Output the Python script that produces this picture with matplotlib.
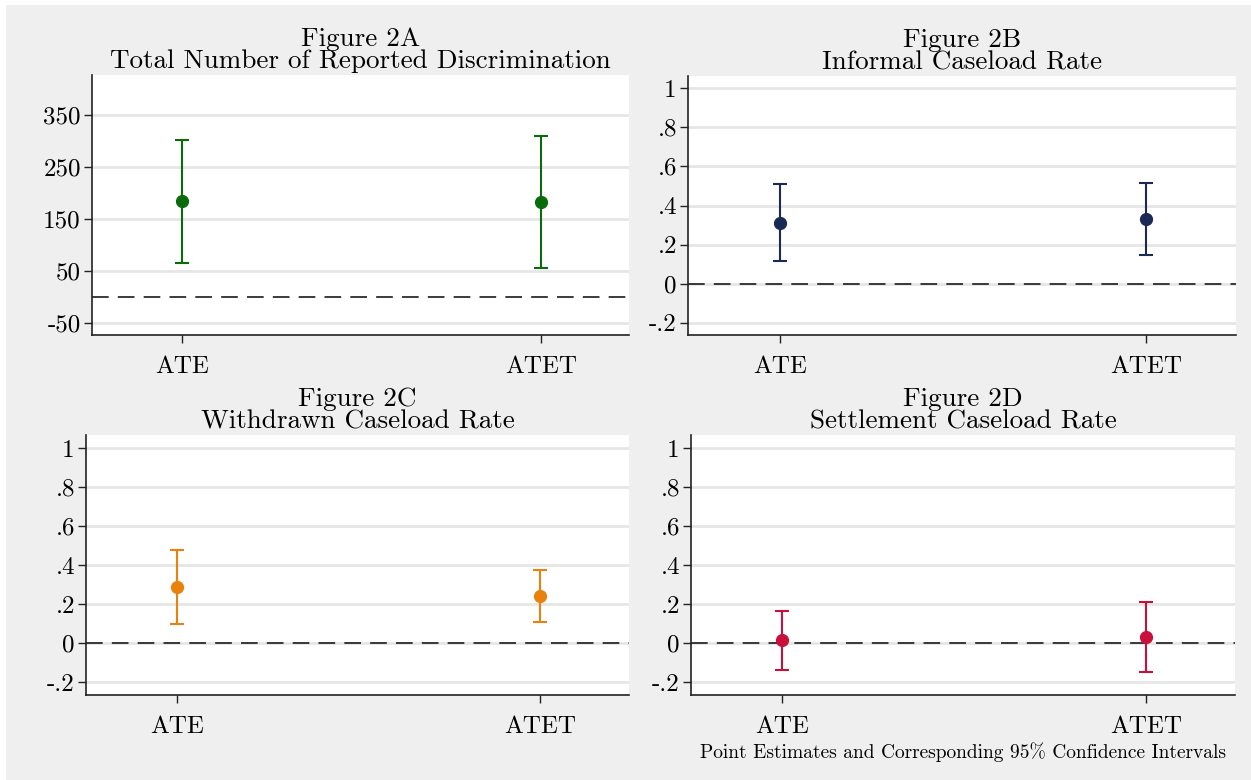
import matplotlib
matplotlib.use("Agg")
import matplotlib.pyplot as plt
from matplotlib.patches import Rectangle

plt.rcParams['font.family'] = ['cmr10', 'DejaVu Serif']
plt.rcParams['axes.unicode_minus'] = False
plt.rcParams['axes.formatter.use_mathtext'] = False

categories = ["ATE", "ATET"]

titles = ["Figure 2A\nTotal Number of Reported Discrimination",
          "Figure 2B\nInformal Caseload Rate",
          "Figure 2C\nWithdrawn Caseload Rate",
          "Figure 2D\nSettlement Caseload Rate"]

est_a = [184, 183]
lo_a = [65, 56]
hi_a = [302, 310]

est_b = [0.313, 0.333]
lo_b = [0.118, 0.149]
hi_b = [0.508, 0.513]

est_c = [0.287, 0.241]
lo_c = [0.097, 0.108]
hi_c = [0.477, 0.374]

est_d = [0.015, 0.032]
lo_d = [-0.138, -0.149]
hi_d = [0.164, 0.210]

ticks_a = [-50, 50, 150, 250, 350]
ticklabels_a = ["-50", "50", "150", "250", "350"]
ticks_rate = [-0.2, 0, 0.2, 0.4, 0.6, 0.8, 1.0]
ticklabels_rate = ["-.2", "0", ".2", ".4", ".6", ".8", "1"]

colors = ["#0a6b0a", "#1a2a55", "#e8820c", "#c8103a"]

W, H = 1251, 780
fig = plt.figure(figsize=(W / 100, H / 100), dpi=100, facecolor="white")
fig.patches.append(Rectangle((6 / W, 0), 1 - 6 / W, 1 - 5 / H, transform=fig.transFigure,
                             facecolor="#efefef", edgecolor="none", zorder=-10))

def px_axes(l, r, t, b):
    return fig.add_axes([l / W, 1 - b / H, (r - l) / W, (b - t) / H])

boxes = [(92, 629, 75, 335), (688, 1236, 76, 335), (86, 629, 435, 695), (691, 1235, 435, 695)]
data = [(est_a, lo_a, hi_a, ticks_a, ticklabels_a, (-73, 427)),
        (est_b, lo_b, hi_b, ticks_rate, ticklabels_rate, (-0.262, 1.062)),
        (est_c, lo_c, hi_c, ticks_rate, ticklabels_rate, (-0.267, 1.067)),
        (est_d, lo_d, hi_d, ticks_rate, ticklabels_rate, (-0.267, 1.067))]

xpos = [1, 2]
for i, (box, (est, lo, hi, ticks, tlabels, ylim)) in enumerate(zip(boxes, data)):
    ax = px_axes(*box)
    ax.set_facecolor("white")
    c = colors[i]
    yerr = [[e - l for e, l in zip(est, lo)], [h - e for e, h in zip(est, hi)]]
    ax.errorbar(xpos, est, yerr=yerr, fmt="o", color=c, ecolor=c, elinewidth=1.5,
                capsize=4.7, capthick=1.5, markersize=8.5, zorder=3)
    ax.axhline(0, color="#1a1a1a", linestyle=(0, (10, 5.5)), linewidth=1.2, zorder=2)
    ax.set_xlim(0.75, 2.245)
    ax.set_ylim(*ylim)
    ax.set_yticks(ticks)
    ax.set_yticklabels(tlabels)
    ax.set_xticks(xpos)
    ax.set_xticklabels(categories)
    ax.yaxis.grid(True, color="#e6e6e6", linewidth=2)
    ax.set_axisbelow(True)
    for s in ["top", "right"]:
        ax.spines[s].set_visible(False)
    for s in ["left", "bottom"]:
        ax.spines[s].set_color("#222222")
        ax.spines[s].set_linewidth(1.2)
    ax.tick_params(axis="y", labelsize=18, length=6, width=1, color="#222222", pad=2)
    ax.tick_params(axis="x", labelsize=18, length=6, width=1, color="#222222", pad=9)
    ax.set_title(titles[i], fontsize=19.5, linespacing=0.92, pad=5)

fig.text(963 / W, 1 - 752 / H, "Point Estimates and Corresponding 95% Confidence Intervals",
         fontsize=14, ha="center", va="center")

fig.savefig("out.png", dpi=100, facecolor=fig.get_facecolor())
